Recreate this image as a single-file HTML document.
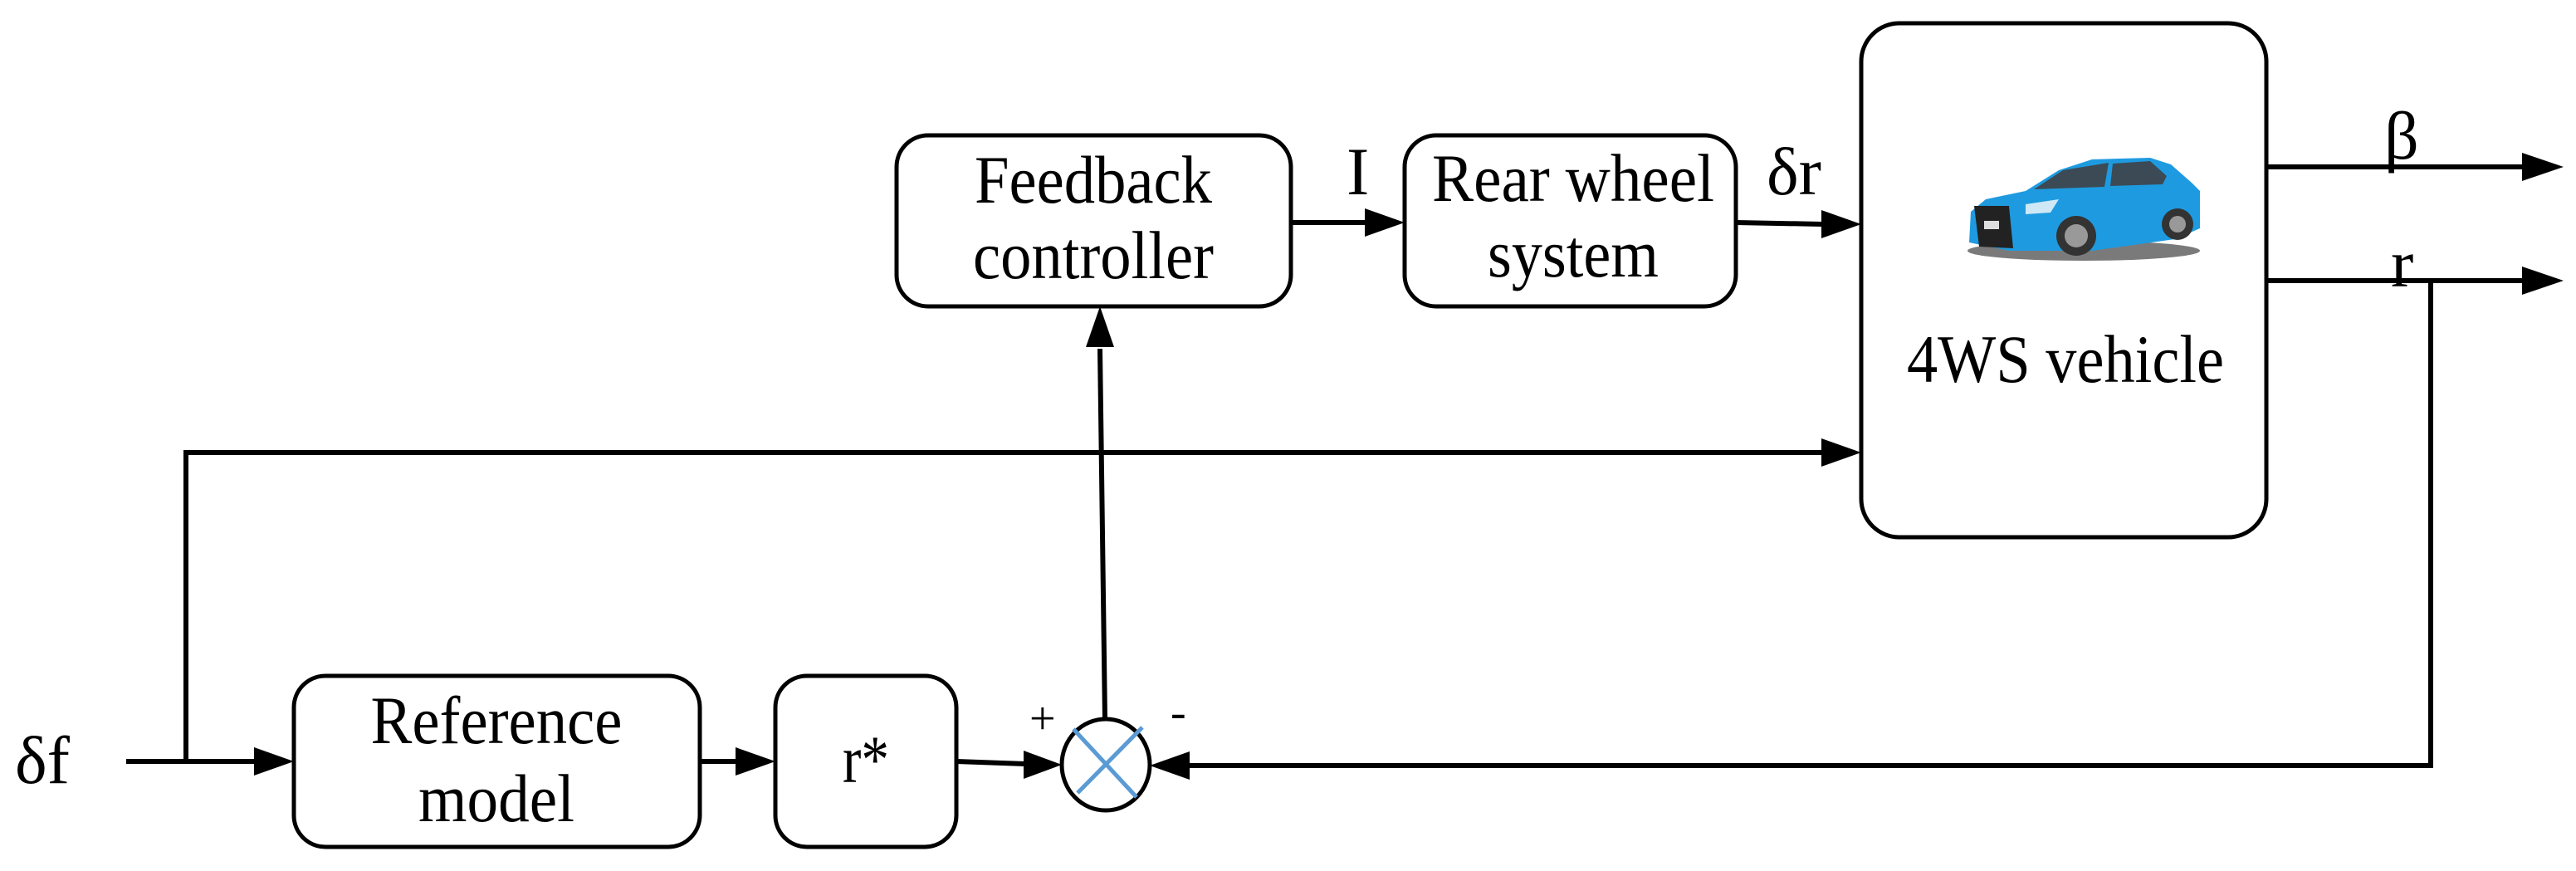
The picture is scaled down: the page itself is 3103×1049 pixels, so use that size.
<!DOCTYPE html>
<html><head><meta charset="utf-8"><style>
html,body{margin:0;padding:0;background:#fff;}
svg{display:block;}
text{font-family:"Liberation Serif",serif;fill:#000;}
</style></head><body>
<svg width="3103" height="1049" viewBox="0 0 3103 1049" xmlns="http://www.w3.org/2000/svg">
<g fill="none" stroke="#000" stroke-width="5">
<rect x="1080" y="163" width="475" height="206" rx="38"/>
<rect x="1692" y="163" width="399" height="206" rx="38"/>
<rect x="2242" y="28" width="488" height="619" rx="46"/>
<rect x="354" y="814" width="489" height="206" rx="38"/>
<rect x="934" y="814" width="218" height="206" rx="38"/>
<ellipse cx="1332" cy="921" rx="53" ry="55"/>
</g>
<g stroke="#5b9bd5" stroke-width="5">
<line x1="1293" y1="878" x2="1369" y2="960"/>
<line x1="1376" y1="876" x2="1298" y2="955"/>
</g>
<g stroke="#000" stroke-width="6" fill="none">
<line x1="152" y1="917" x2="310" y2="917"/>
<polyline points="224,917 224,545 2195,545"/>
<line x1="843" y1="917" x2="890" y2="917"/>
<line x1="1152" y1="917" x2="1235" y2="920"/>
<line x1="1331" y1="866" x2="1325" y2="420"/>
<line x1="1555" y1="268" x2="1645" y2="268"/>
<line x1="2091" y1="268" x2="2195" y2="270"/>
<line x1="2730" y1="201" x2="3040" y2="201"/>
<line x1="2730" y1="338" x2="3040" y2="338"/>
<polyline points="2928,338 2928,922 1430,922"/>
</g>
<g fill="#000">
<path d="M354,917 L306,900 L306,934z"/>
<path d="M934,917 L886,900 L886,934z"/>
<path d="M1279,921 L1233,904 L1233,938z"/>
<path d="M1325,369 L1308,418 L1342,418z"/>
<path d="M1692,268 L1644,251 L1644,285z"/>
<path d="M2242,270 L2194,253 L2194,287z"/>
<path d="M2242,545 L2194,528 L2194,562z"/>
<path d="M3088,201 L3038,184 L3038,218z"/>
<path d="M3088,338 L3038,321 L3038,355z"/>
<path d="M1385,922 L1433,905 L1433,939z"/>
</g>
<g>
<ellipse cx="2510" cy="302" rx="140" ry="12" fill="#222" opacity="0.6"/>
<path d="M2372,292 L2374,255 L2392,240 L2440,230 L2480,205 L2520,192 L2590,190 L2615,198 L2640,220 L2650,230 L2650,275 L2620,288 L2520,302 L2420,302 Z" fill="#1e9be0"/>
<path d="M2450,228 L2485,205 L2540,196 L2535,225 Z" fill="#3b4a55"/>
<path d="M2545,197 L2590,194 L2610,212 L2605,222 L2542,224 Z" fill="#3b4a55"/>
<path d="M2378,248 L2420,248 L2425,299 L2384,297 Z" fill="#222"/>
<rect x="2390" y="266" width="18" height="10" fill="#ddd"/>
<path d="M2440,246 L2480,240 L2470,256 L2440,258 Z" fill="#cfe8f5"/>
<circle cx="2501" cy="284" r="24" fill="#333"/>
<circle cx="2501" cy="284" r="14" fill="#999"/>
<circle cx="2623" cy="270" r="19" fill="#333"/>
<circle cx="2623" cy="270" r="10" fill="#999"/>
</g>
<g font-size="82" text-anchor="middle" lengthAdjust="spacingAndGlyphs">
<text x="1317" y="244" textLength="286" lengthAdjust="spacingAndGlyphs">Feedback</text>
<text x="1317" y="335" textLength="290" lengthAdjust="spacingAndGlyphs">controller</text>
<text x="1895" y="242" textLength="340" lengthAdjust="spacingAndGlyphs">Rear wheel</text>
<text x="1895" y="333" textLength="206" lengthAdjust="spacingAndGlyphs">system</text>
<text x="2488" y="460" textLength="382" lengthAdjust="spacingAndGlyphs">4WS vehicle</text>
<text x="598" y="895" textLength="303" lengthAdjust="spacingAndGlyphs">Reference</text>
<text x="598" y="989" textLength="188" lengthAdjust="spacingAndGlyphs">model</text>
<text x="1043" y="942" textLength="56" lengthAdjust="spacingAndGlyphs">r*</text>
</g>
<g font-size="82">
<text x="18" y="943">δf</text>
<text x="1622" y="234">I</text>
<text x="2128" y="234">δr</text>
<text x="2872" y="191">β</text>
<text x="2880" y="345">r</text>
</g>
<g font-size="56">
<text x="1240" y="884">+</text>
<text x="1410" y="876">-</text>
</g>
</svg>
</body></html>
